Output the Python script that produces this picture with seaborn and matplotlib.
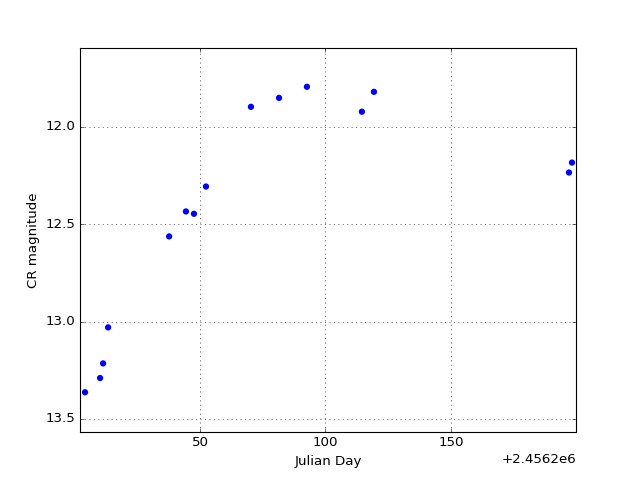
import numpy as np
import pandas as pd
import seaborn as sns
import matplotlib
matplotlib.use('Agg')
import matplotlib.pyplot as plt
from matplotlib.ticker import ScalarFormatter

# julian day offsets from 2456200 and CR magnitudes
jd_offset = 2456200
days = [4.2, 10.2, 11.4, 13.4, 37.7, 44.4, 47.6, 52.4, 70.3, 81.5, 92.6, 114.5, 119.3, 197.0, 198.2]
mags = [13.363, 13.29, 13.215, 13.03, 12.563, 12.435, 12.447, 12.307, 11.898, 11.852, 11.795, 11.923, 11.821, 12.235, 12.184]

data = pd.DataFrame({'jd': np.array(days) + jd_offset, 'mag': mags})

plt.style.use('classic')
fig, ax = plt.subplots(figsize=(8, 6), dpi=80)

sns.scatterplot(data=data, x='jd', y='mag', color='b', edgecolor='none', s=32, ax=ax)

ax.set_xlim(jd_offset + 2.2, jd_offset + 199.8)
ax.set_ylim(13.567, 11.596)
ax.set_xticks([jd_offset + 50, jd_offset + 100, jd_offset + 150])
fmt = ScalarFormatter(useOffset=jd_offset)
ax.xaxis.set_major_formatter(fmt)
ax.set_yticks([12.0, 12.5, 13.0, 13.5])
ax.grid(True)
ax.set_xlabel('Julian Day')
ax.set_ylabel('CR magnitude')

fig.savefig('out.png', dpi=80, facecolor='white')
